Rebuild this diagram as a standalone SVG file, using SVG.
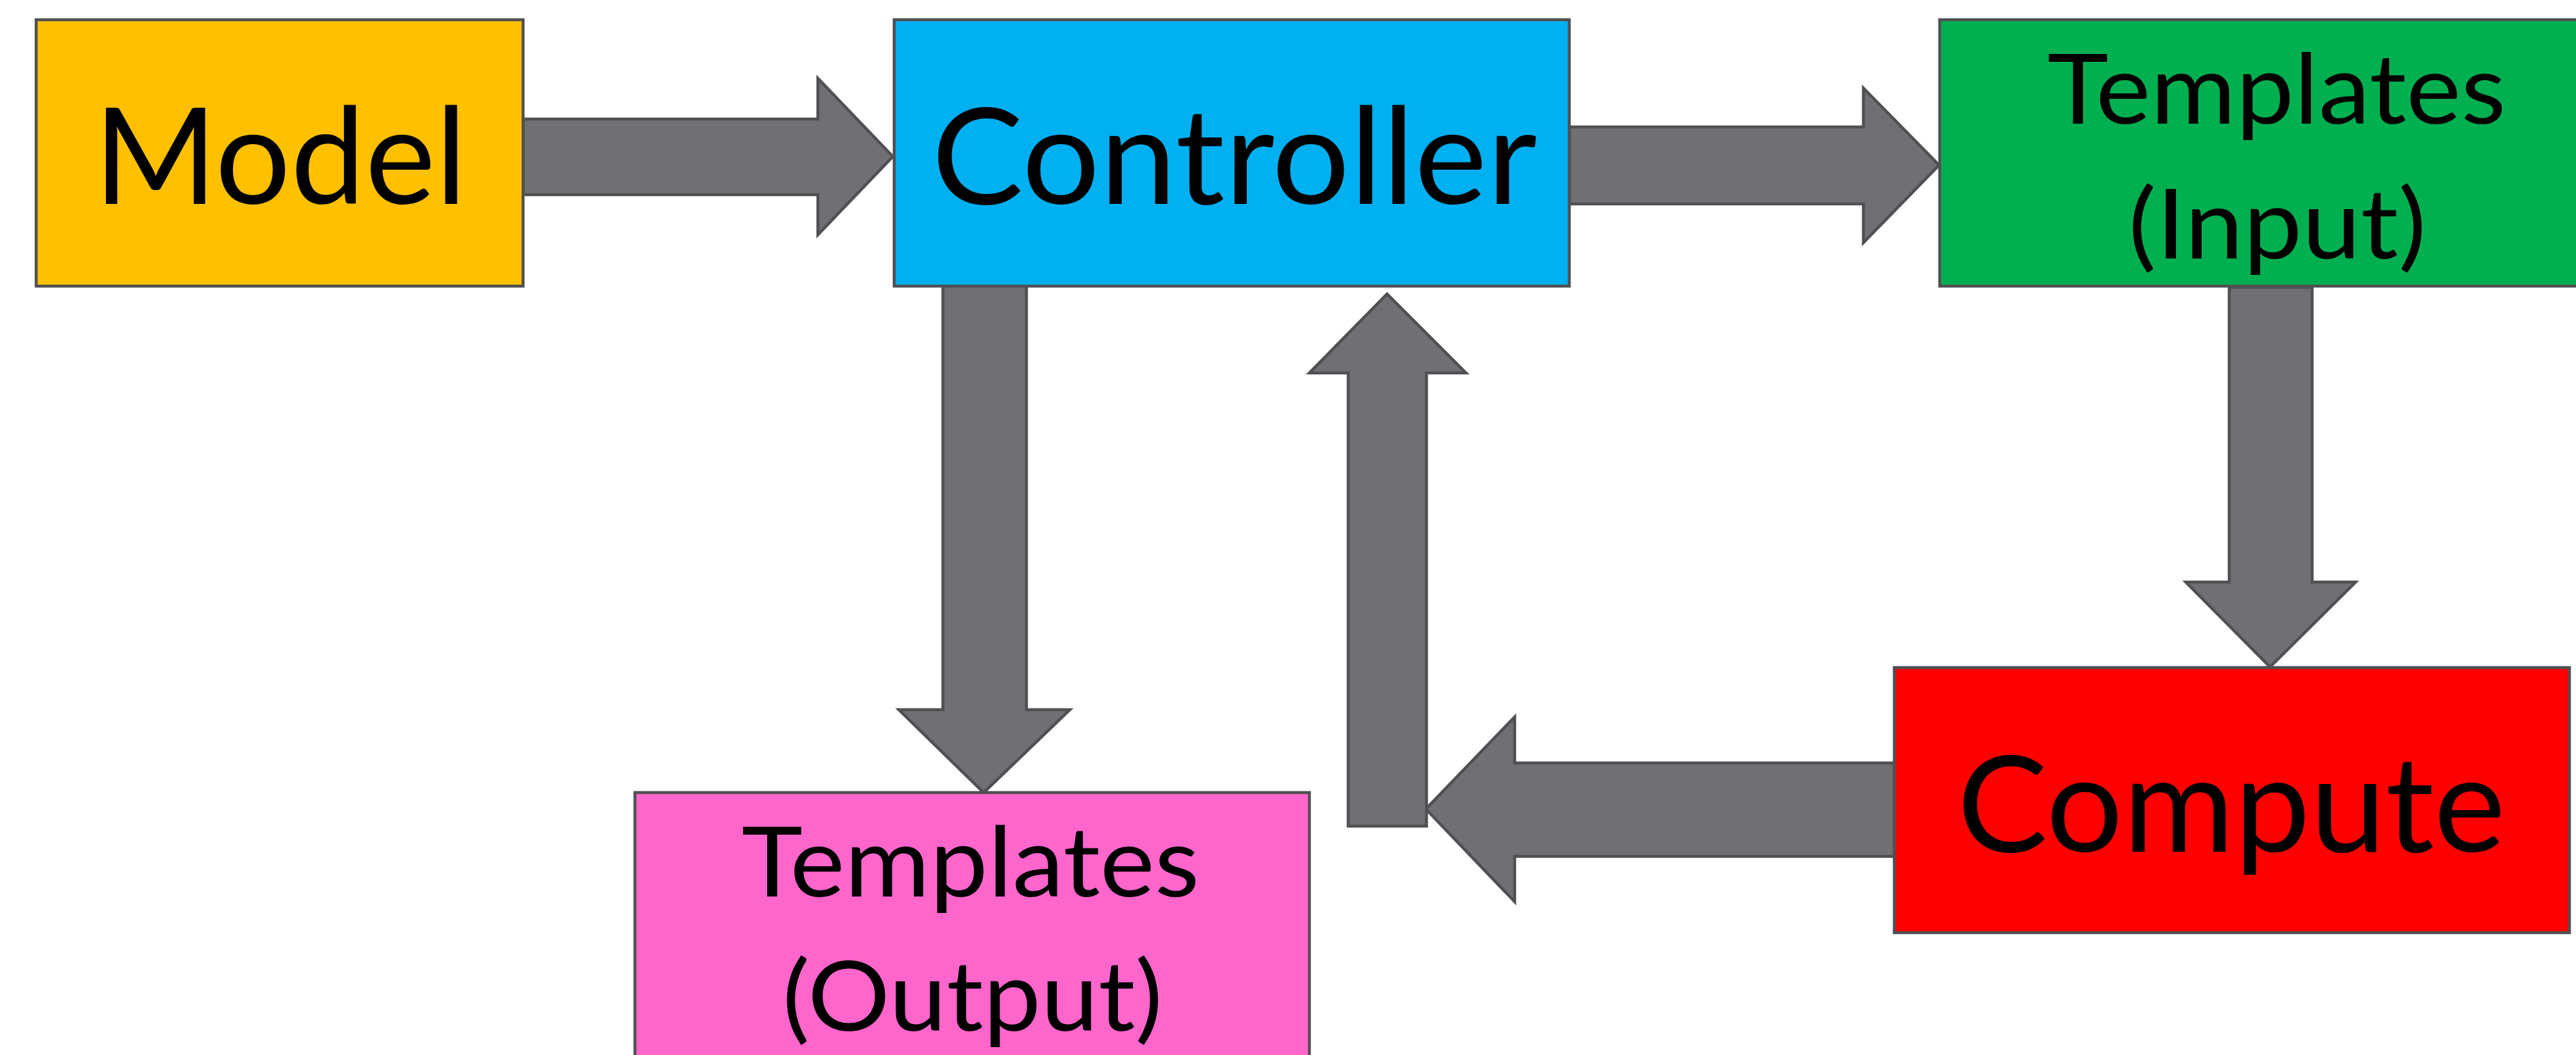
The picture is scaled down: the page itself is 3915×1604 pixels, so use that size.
<svg xmlns="http://www.w3.org/2000/svg" width="3915" height="1604" viewBox="0 0 3915 1604">
<style>
.box{stroke:#505053;stroke-width:4.5}
.arr{fill:#706F74;stroke:#505053;stroke-width:4.5;stroke-linejoin:miter}
.lbl{font-family:Lato,"Open Sans","Liberation Sans",sans-serif;fill:#000;text-anchor:middle}
.big{font-size:204px}
.mid{font-size:148px}
</style>
<rect width="3915" height="1604" fill="#fff"/>
<g id="connectors">
<polygon class="arr" points="795,181 1243,181 1243,119 1357,238 1243,357 1243,296 795,296"/>
<polygon class="arr" points="2385,193 2832,193 2832,134 2947,251 2832,369 2832,310 2385,310"/>
<polygon class="arr" points="3388,437 3514,437 3514,885 3580,885 3450,1014 3322,885 3388,885"/>
<polygon class="arr" points="2879,1160 2302,1160 2302,1090 2167,1230 2302,1371 2302,1302 2879,1302"/>
<polygon class="arr" points="2049,1256 2168,1256 2168,567 2228,567 2108,447 1990,567 2049,567"/>
<polygon class="arr" points="1433,434 1560,434 1560,1079 1626,1079 1495,1205 1366,1079 1433,1079"/>
</g>
<g id="model">
<rect class="box" x="55" y="30" width="740" height="405" fill="#FFC000"/>
<text class="lbl big" x="426" y="310" textLength="567" lengthAdjust="spacingAndGlyphs">Model</text>
</g>
<g id="controller">
<rect class="box" x="1359" y="30" width="1026" height="405" fill="#00B0F0"/>
<text class="lbl big" x="1876" y="310" textLength="920" lengthAdjust="spacingAndGlyphs">Controller</text>
</g>
<g id="templates-input">
<rect class="box" x="2948" y="30" width="1026" height="405" fill="#00B050"/>
<text class="lbl mid" x="3460" y="188" textLength="697" lengthAdjust="spacingAndGlyphs">Templates</text>
<text class="lbl mid" x="3461" y="393" textLength="453" lengthAdjust="spacingAndGlyphs">(Input)</text>
</g>
<g id="compute">
<rect class="box" x="2879" y="1015" width="1026" height="403" fill="#FF0000"/>
<text class="lbl big" x="3391" y="1295" textLength="833" lengthAdjust="spacingAndGlyphs">Compute</text>
</g>
<g id="templates-output">
<rect class="box" x="965" y="1205" width="1025" height="500" fill="#FF66CC"/>
<text class="lbl mid" x="1475" y="1363" textLength="696" lengthAdjust="spacingAndGlyphs">Templates</text>
<text class="lbl mid" x="1478" y="1567" textLength="578" lengthAdjust="spacingAndGlyphs">(Output)</text>
</g>
</svg>
